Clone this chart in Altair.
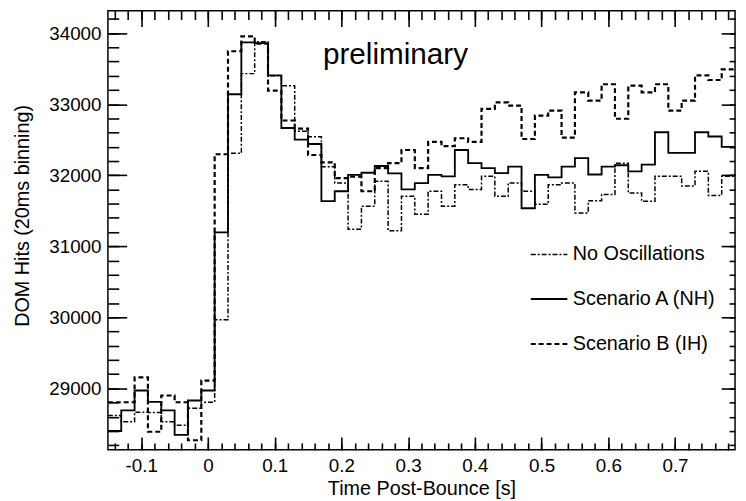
import altair as alt
import pandas as pd

# ---------------- data ----------------
# left edges of the 20 ms bins [s]
time_edges = [-0.15, -0.13, -0.11, -0.09, -0.07, -0.05, -0.03, -0.01,
              0.01, 0.03, 0.05, 0.07, 0.09, 0.11, 0.13, 0.15, 0.17, 0.19,
              0.21, 0.23, 0.25, 0.27, 0.29, 0.31, 0.33, 0.35, 0.37, 0.39,
              0.41, 0.43, 0.45, 0.47, 0.49, 0.51, 0.53, 0.55, 0.57, 0.59,
              0.61, 0.63, 0.65, 0.67, 0.69, 0.71, 0.73, 0.75, 0.77]
last_edge = 0.79

series_names = ["No Oscillations", "Scenario A (NH)", "Scenario B (IH)"]

no_osc = [28620, 28530, 28665, 28660, 28530, 28480, 28720, 28805,
          29965, 32310, 33430, 33880, 33400, 33260, 32620, 32540, 32120, 31890,
          31240, 31565, 31915, 31220, 31705, 31450, 31775, 31565, 31865, 31800,
          31985, 31705, 31890, 31775, 31590, 31865, 31890, 31470, 31640, 31730,
          32170, 31750, 31635, 31985, 31985, 31850, 32055, 31715, 31985]

scen_a = [28400, 28690, 28970, 28810, 28690, 28345, 28830, 28970,
          31195, 33140, 33870, 33860, 33405, 32665, 32500, 32440, 31635, 31775,
          32005, 32035, 32130, 32025, 31800, 31890, 32005, 31985, 32355, 32170,
          32100, 32030, 32120, 31535, 32005, 31970, 32120, 32240, 32010, 32120,
          32140, 32055, 32150, 32605, 32315, 32315, 32605, 32545, 32400]

scen_b = [28805, 28805, 29155, 28390, 28900, 28805, 28270, 29110,
          32295, 33745, 33955, 33850, 33190, 32770, 32655, 32285, 32180, 31960,
          31980, 31775, 32100, 32170, 32355, 32100, 32470, 32410, 32520, 32470,
          32935, 33025, 32980, 32510, 32840, 32910, 32530, 33165, 33050, 33280,
          32795, 33260, 33165, 33280, 32910, 33050, 33405, 33340, 33490]

x_major = [-0.1, 0.0, 0.1, 0.2, 0.3, 0.4, 0.5, 0.6, 0.7]
x_minor = [-0.14, -0.12, -0.10, -0.08, -0.06, -0.04, -0.02, 0.0, 0.02, 0.04,
           0.06, 0.08, 0.10, 0.12, 0.14, 0.16, 0.18, 0.20, 0.22, 0.24, 0.26,
           0.28, 0.30, 0.32, 0.34, 0.36, 0.38, 0.40, 0.42, 0.44, 0.46, 0.48,
           0.50, 0.52, 0.54, 0.56, 0.58, 0.60, 0.62, 0.64, 0.66, 0.68, 0.70,
           0.72, 0.74, 0.76, 0.78]
y_major = [29000, 30000, 31000, 32000, 33000, 34000]
y_minor = [28200, 28400, 28600, 28800, 29000, 29200, 29400, 29600, 29800,
           30000, 30200, 30400, 30600, 30800, 31000, 31200, 31400, 31600,
           31800, 32000, 32200, 32400, 32600, 32800, 33000, 33200, 33400,
           33600, 33800, 34000, 34200]

x_domain = [-0.15, 0.79]
y_domain = [28135, 34316]

note_text = ["preliminary"]
note_t = [0.281]
note_v = [33690]

# ---------------- tables ----------------
rows = []
for name, vals in zip(series_names, [no_osc, scen_a, scen_b]):
    for t, v in zip(time_edges + [last_edge], vals + [vals[-1]]):
        rows.append({"t": t, "v": v, "series": name})
df = pd.DataFrame(rows)
note_df = pd.DataFrame({"t": note_t, "v": note_v, "label": note_text})

FONT = "Liberation Sans"
xscale = alt.Scale(domain=x_domain, nice=False, zero=False)
yscale = alt.Scale(domain=y_domain, nice=False, zero=False)

x_label_axis = alt.Axis(
    orient="bottom", values=x_major, ticks=False, domain=False, grid=False,
    labelExpr="'' + round(datum.value * 10) / 10", labelFont=FONT,
    labelFontSize=19, labelColor="black", labelPadding=7, labelOverlap=False,
    labelFlush=False, title="Time Post-Bounce [s]", titleFont=FONT,
    titleFontSize=20, titleFontWeight="normal", titleColor="black",
    titleBaseline="middle", titleY=39)
y_label_axis = alt.Axis(
    orient="left", values=y_major, ticks=False, domain=False, grid=False,
    format="d", labelFont=FONT, labelFontSize=19, labelColor="black",
    labelPadding=7, labelOverlap=False, labelFlush=False,
    title="DOM Hits (20ms binning)", titleFont=FONT, titleFontSize=20,
    titleFontWeight="normal", titleColor="black", titleBaseline="middle",
    titleAlign="center", titleX=-86, titleY=207, titleAngle=-90)

lines = alt.Chart(df).mark_line(interpolate="step-after", color="black",
                                clip=True).encode(
    x=alt.X("t:Q", scale=xscale, axis=x_label_axis),
    y=alt.Y("v:Q", scale=yscale, axis=y_label_axis),
    strokeDash=alt.StrokeDash(
        "series:N",
        scale=alt.Scale(domain=series_names,
                        range=[[5, 2, 2, 2], [1, 0], [5, 3]]),
        legend=alt.Legend(title=None, orient="none", legendX=426, legendY=227,
                          symbolType="stroke", symbolSize=1369,
                          symbolStrokeWidth=1.6, symbolStrokeColor="black",
                          labelFont=FONT, labelFontSize=20, labelColor="black",
                          labelOffset=4, rowPadding=15, padding=0)),
    strokeWidth=alt.StrokeWidth(
        "series:N",
        scale=alt.Scale(domain=series_names, range=[1.5, 2.2, 1.5]),
        legend=None),
)

note = alt.Chart(note_df).mark_text(font=FONT, fontSize=30, color="black",
                                    align="center", baseline="middle").encode(
    x=alt.X("t:Q", scale=xscale, axis=None),
    y=alt.Y("v:Q", scale=yscale, axis=None),
    text="label:N",
)


def tick_axis(orient, values, size):
    return alt.Axis(orient=orient, values=values, tickSize=size, offset=-size,
                    labels=False, domain=False, grid=False, title=None,
                    ticks=True, tickColor="black", tickWidth=1.6)


def tick_layer(xa, ya):
    return alt.Chart(df).mark_point(opacity=0).encode(
        x=alt.X("t:Q", scale=xscale, axis=xa),
        y=alt.Y("v:Q", scale=yscale, axis=ya),
    )


t1 = tick_layer(tick_axis("bottom", x_major, 13), tick_axis("left", y_major, 19))
t2 = tick_layer(tick_axis("top", x_major, 16), tick_axis("right", y_major, 14))
t3 = tick_layer(tick_axis("bottom", x_minor, 7), tick_axis("left", y_minor, 11))
t4 = tick_layer(tick_axis("top", x_minor, 9), tick_axis("right", y_minor, 6))

chart = alt.layer(lines, note, t1, t2, t3, t4).resolve_axis(
    x="independent", y="independent"
).properties(
    width=634, height=444,
    autosize=alt.AutoSizeParams(type="none"),
    padding={"left": 101, "top": 0, "right": 3, "bottom": 49},
).configure_view(stroke="black", strokeWidth=1.5)

chart.save("out.html", embed_options={"renderer": "svg", "actions": False})
